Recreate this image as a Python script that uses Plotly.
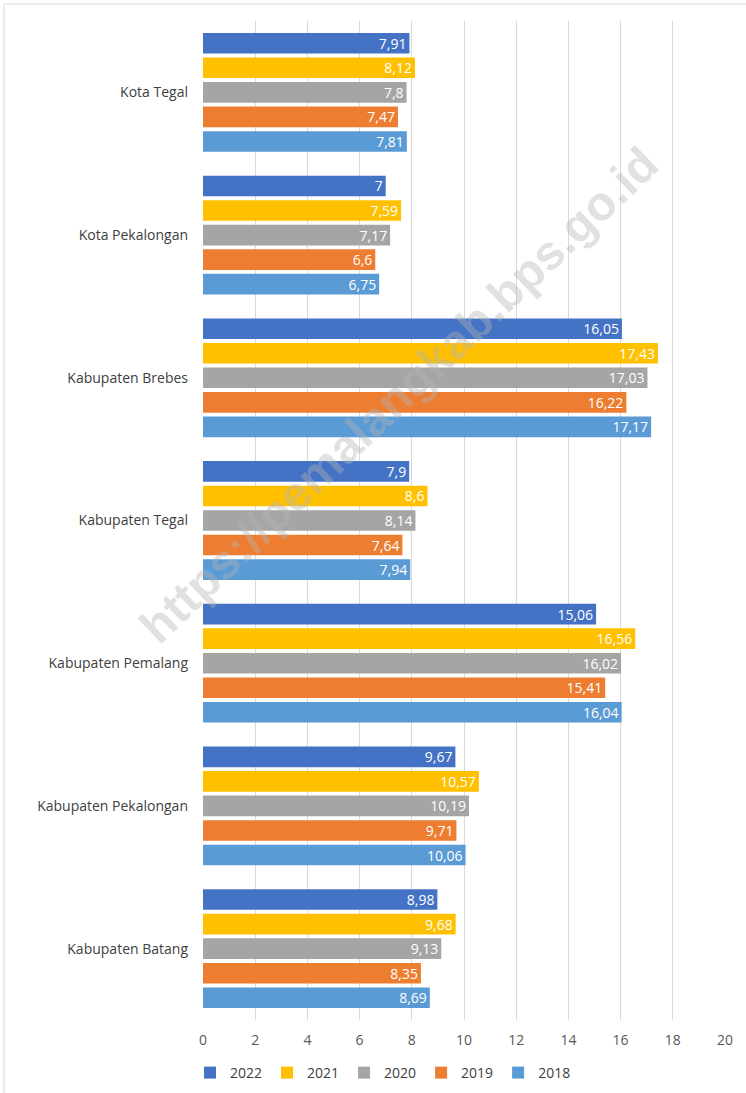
import plotly.graph_objects as go

categories = ["Kota Tegal", "Kota Pekalongan", "Kabupaten Brebes", "Kabupaten Tegal",
              "Kabupaten Pemalang", "Kabupaten Pekalongan", "Kabupaten Batang"]
years = ["2022", "2021", "2020", "2019", "2018"]
v2022 = [7.91, 7.00, 16.05, 7.90, 15.06, 9.67, 8.98]
v2021 = [8.12, 7.59, 17.43, 8.60, 16.56, 10.57, 9.68]
v2020 = [7.80, 7.17, 17.03, 8.14, 16.02, 10.19, 9.13]
v2019 = [7.47, 6.60, 16.22, 7.64, 15.41, 9.71, 8.35]
v2018 = [7.81, 6.75, 17.17, 7.94, 16.04, 10.06, 8.69]
series = [v2022, v2021, v2020, v2019, v2018]
colors = ["#4472C4", "#FFC000", "#A5A5A5", "#ED7D31", "#5B9BD5"]
xticks = [0, 2, 4, 6, 8, 10, 12, 14, 16, 18, 20]

def fmt(v):
    s = ("%.2f" % v).rstrip("0").rstrip(".")
    return s.replace(".", ",")

fig = go.Figure()
for y, vals, c in zip(years, series, colors):
    fig.add_trace(go.Bar(
        name=y, y=categories, x=vals, orientation="h",
        marker=dict(color=c, line=dict(width=0)),
        text=[fmt(v) for v in vals], textposition="inside", insidetextanchor="end",
        textangle=0, constraintext="none",
        textfont=dict(color="white", size=14, family="Open Sans"),
        cliponaxis=False,
    ))

L, R, T, B = 203, 21, 21, 73
W, H = 746, 1093
pw = W - L - R
ph = H - T - B

fig.update_layout(
    width=W, height=H,
    margin=dict(l=L, r=R, t=T, b=B, autoexpand=False),
    paper_bgcolor="white", plot_bgcolor="white",
    barmode="group", bargap=0.14, bargroupgap=0.16,
    font=dict(family="Open Sans", color="#404040", size=14),
    showlegend=True,
    legend=dict(orientation="h", x=(383 - L) / pw, xanchor="center",
                y=-(1073 - (H - B)) / ph, yanchor="middle",
                font=dict(size=14, color="#404040"), traceorder="normal",
                itemwidth=30, tracegroupgap=0),
    xaxis=dict(range=[0, 20], tickvals=xticks, showgrid=True, gridcolor="#D9D9D9",
               gridwidth=1, zeroline=False, showline=False, ticks="",
               tickfont=dict(size=14, color="#595959"), ticklabelstandoff=10,
               automargin=False),
    yaxis=dict(autorange="reversed", showgrid=False, showline=False, ticks="",
               tickfont=dict(size=14, color="#404040"), ticklabelstandoff=14,
               automargin=False),
    uniformtext=dict(mode=False),
)

# chart frame
fig.add_shape(type="rect", xref="paper", yref="paper",
              x0=(4 - L) / pw, x1=(W + 4 - L) / pw,
              y0=-(1100 - (H - B)) / ph, y1=1 + (T - 4) / ph,
              line=dict(color="#D9D9D9", width=1), layer="below")

# watermark
fig.add_annotation(text="https://pemalangkab.bps.go.id", xref="paper", yref="paper",
                   x=(398 - L) / pw, y=1 - (395 - T) / ph, showarrow=False,
                   textangle=-43.6,
                   font=dict(size=48, family="Liberation Sans", color="rgba(180,180,180,0.4)",
                             weight="bold"))

fig.write_html("out.html", config={"displayModeBar": False},
               post_script="document.body.style.margin='0';document.body.style.overflow='hidden';")
